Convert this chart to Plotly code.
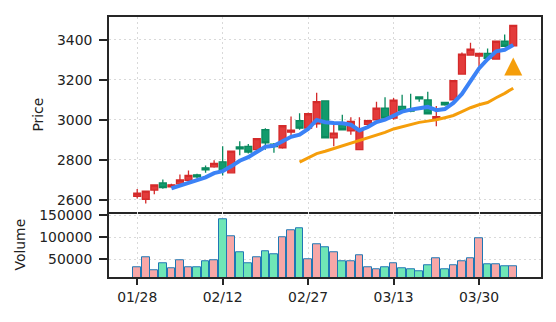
import pandas as pd
import plotly.graph_objects as go
from plotly.subplots import make_subplots

# Trading sessions (MM/DD)
dates = [
    "01/28", "01/29", "01/30", "02/02", "02/03", "02/04", "02/05", "02/06", "02/09", "02/10",
    "02/12", "02/13", "02/16", "02/17", "02/18", "02/19", "02/20", "02/23", "02/24", "02/25",
    "02/27", "03/02", "03/03", "03/04", "03/05", "03/06", "03/09", "03/10", "03/11", "03/12",
    "03/13", "03/16", "03/17", "03/18", "03/19", "03/20", "03/23", "03/24", "03/25", "03/26",
    "03/30", "03/31", "04/01", "04/02", "04/03",
]

opens = [
    2618, 2603, 2649, 2684, 2665, 2680, 2697, 2725, 2760, 2765,
    2790, 2735, 2864, 2867, 2851, 2950, 2878, 2860, 2938, 2995,
    2958, 2980, 3094, 2909, 2978, 2945, 2851, 2977, 3000, 3058,
    3008, 3066, 3050, 3114, 3099, 3005, 3086, 3099, 3228, 3323,
    3318, 3331, 3303, 3392, 3369,
]
highs = [
    2654, 2645, 2676, 2702, 2680, 2727, 2747, 2730, 2772, 2798,
    2867, 2846, 2892, 2879, 2909, 2958, 2884, 2974, 3016, 3033,
    3035, 3135, 3097, 2975, 3025, 3012, 3012, 3000, 3090, 3112,
    3108, 3125, 3130, 3116, 3140, 3069, 3090, 3197, 3336, 3384,
    3333, 3356, 3394, 3425, 3473,
]
lows = [
    2607, 2582, 2628, 2656, 2660, 2677, 2694, 2707, 2735, 2760,
    2722, 2732, 2823, 2831, 2848, 2850, 2835, 2855, 2922, 2950,
    2952, 2960, 2908, 2867, 2948, 2925, 2848, 2970, 2998, 2998,
    3000, 3040, 3038, 3090, 3026, 2967, 3070, 3097, 3226, 3320,
    3265, 3303, 3300, 3365, 3367,
]
closes = [
    2633, 2644, 2674, 2661, 2675, 2699, 2722, 2715, 2750, 2782,
    2747, 2843, 2855, 2839, 2906, 2884, 2866, 2970, 2948, 2958,
    3030, 3090, 2910, 2933, 2950, 2992, 2948, 2995, 3058, 3008,
    3098, 3045, 3043, 3104, 3030, 3016, 3074, 3195, 3328, 3352,
    3331, 3306, 3392, 3367, 3471,
]
volumes = [
    31300, 55200, 24600, 40300, 29100, 47100, 32700, 32700, 44800, 47100,
    141700, 101800, 65100, 40300, 53800, 68700, 60600, 100200, 116900, 121400,
    49300, 85400, 77700, 66400, 46200, 46200, 58300, 32700, 26800, 32700,
    40300, 30400, 26800, 23000, 35800, 51600, 26800, 35800, 46200, 51600,
    98900, 38100, 38100, 34900, 34900,
]
# Sessions flagged with a buy signal
signal_idx = [44]

UP_LINE, UP_FILL = "#d42a2a", "#e33b3b"
DN_LINE, DN_FILL = "#0a8a5f", "#129b6c"
VOL_UP, VOL_DN = "#f7a7a7", "#6fe6b6"
AXIS_COLOR = "#262626"
GRID_COLOR = "#d9d9d9"
FONT = "DejaVu Sans"
FS = 13.9

x = list(range(len(dates)))
close_s = pd.Series(closes)
ma5 = close_s.rolling(5).mean()
ma20 = close_s.rolling(20).mean()
vol_colors = [VOL_UP if c >= o else VOL_DN for o, c in zip(opens, closes)]
sig_x = [x[i] for i in signal_idx]
sig_y = [lows[i] * 0.97 for i in signal_idx]

fig = make_subplots(rows=2, cols=1, shared_xaxes=True, vertical_spacing=0,
                    row_heights=[0.751, 0.249])

fig.add_trace(go.Candlestick(
    x=x, open=opens, high=highs, low=lows, close=closes,
    increasing=dict(line=dict(color=UP_LINE, width=1.3), fillcolor=UP_FILL),
    decreasing=dict(line=dict(color=DN_LINE, width=1.3), fillcolor=DN_FILL),
    whiskerwidth=0, showlegend=False, name="Price",
), row=1, col=1)

fig.add_trace(go.Scatter(x=x, y=ma20, mode="lines", name="MA20",
                         line=dict(color="#f59e0b", width=3), showlegend=False),
              row=1, col=1)
fig.add_trace(go.Scatter(x=x, y=ma5, mode="lines", name="MA5",
                         line=dict(color="#3b82f6", width=4), showlegend=False),
              row=1, col=1)
fig.add_trace(go.Scatter(
    x=sig_x, y=sig_y, mode="markers", name="Signal", showlegend=False,
    marker=dict(symbol="arrow-down", angle=180, standoff=9, size=18,
                color="#f59e0b", line=dict(width=0)),
), row=1, col=1)

fig.add_trace(go.Bar(
    x=x, y=volumes, width=0.9, showlegend=False, name="Volume",
    marker=dict(color=vol_colors, line=dict(color="#1f77b4", width=1)),
), row=2, col=1)

axis_common = dict(
    showline=True, linecolor=AXIS_COLOR, linewidth=1.8, mirror=True,
    showgrid=True, gridcolor=GRID_COLOR, griddash="2px,3px", gridwidth=1,
    zeroline=False, tickfont=dict(family=FONT, size=FS, color="#222"),
)

tick_pos = x[::10]
tick_txt = [dates[i] for i in tick_pos]
xr = [-3.3, 47.25]

fig.update_xaxes(**axis_common, range=xr, tickmode="array", tickvals=tick_pos,
                 ticktext=tick_txt, rangeslider_visible=False)
fig.update_xaxes(ticks="", showticklabels=False, row=1, col=1)
fig.update_xaxes(ticks="outside", ticklen=6, tickwidth=1.5, tickcolor=AXIS_COLOR,
                 mirror=False, row=2, col=1)

fig.update_yaxes(**axis_common, ticks="outside", ticklen=8, tickwidth=1.5,
                 tickcolor=AXIS_COLOR, ticklabelstandoff=4)
fig.update_yaxes(range=[2538, 3513], tickvals=[2600, 2800, 3000, 3200, 3400],
                 title=dict(text="Price", font=dict(family=FONT, size=FS, color="#222"),
                            standoff=10),
                 row=1, col=1)
fig.update_yaxes(range=[10000, 157000], tickvals=[50000, 100000, 150000],
                 tickformat="d",
                 title=dict(text="Volume", font=dict(family=FONT, size=FS, color="#222"),
                            standoff=10),
                 row=2, col=1)

fig.update_layout(
    width=556, height=322,
    margin=dict(l=109, r=15, t=15, b=45),
    paper_bgcolor="white", plot_bgcolor="white",
    boxgap=0.15, boxgroupgap=0.05, bargap=0,
    font=dict(family=FONT, size=FS, color="#222"),
    showlegend=False,
)

fig.write_html("out.html")
